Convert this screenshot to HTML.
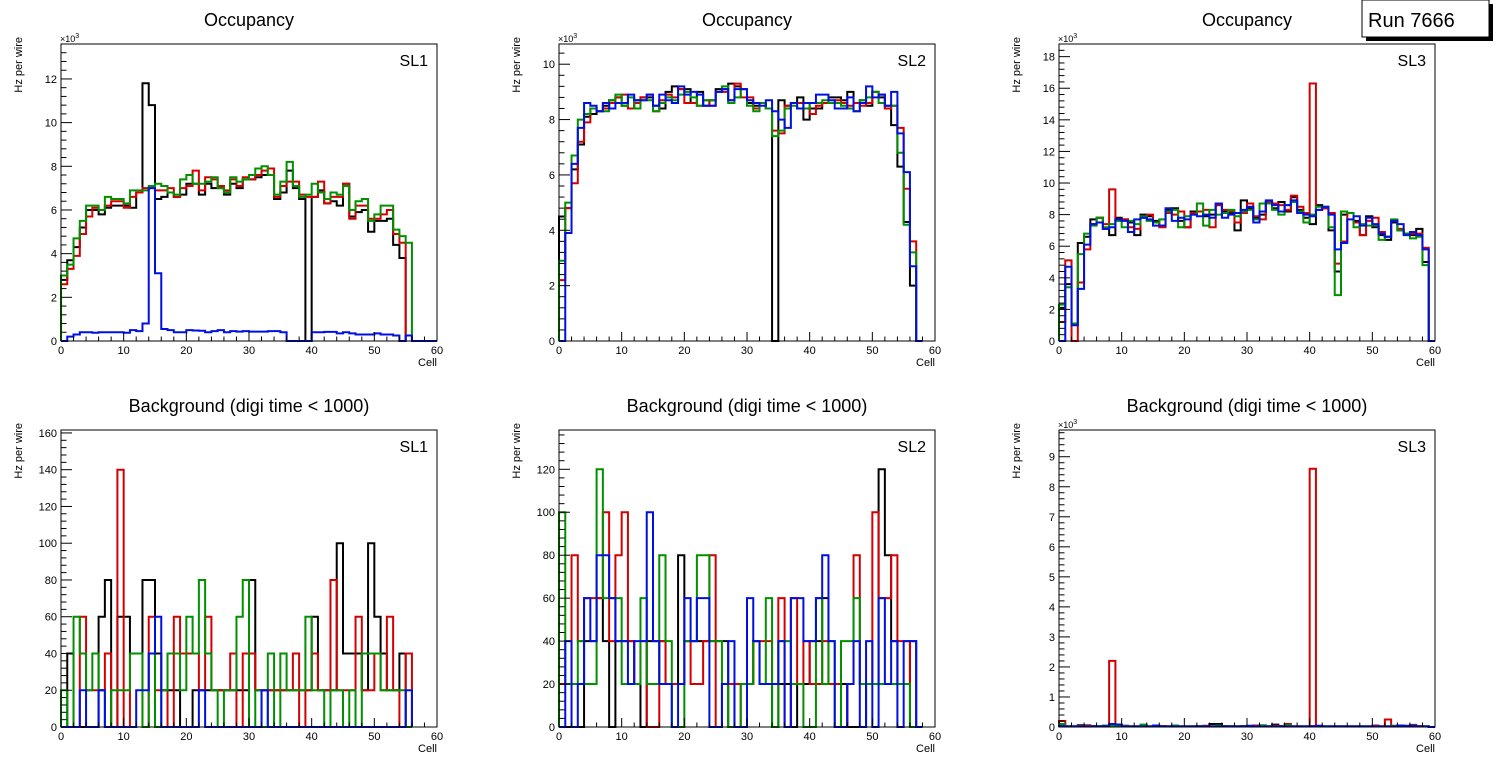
<!DOCTYPE html>
<html><head><meta charset="utf-8"><style>
body{margin:0;background:#fff;}
svg{display:block;font-family:"Liberation Sans",sans-serif;}
</style></head><body>
<svg id="c" width="1496" height="772" xmlns="http://www.w3.org/2000/svg">
<g>
<rect x="1366" y="4" width="127" height="37" fill="#000"/>
<rect x="1362" y="0" width="127" height="37" fill="#fff" stroke="#000" stroke-width="1"/>
<text x="1368" y="27" font-size="20">Run 7666</text>
</g>
</svg>
<script>
const cells = Array.from({length:60},(_,i)=>i);
const seriesColors = ['#000','#d40000','#009000','#0010e0'];
// Occupancy SL1 (x10^3)
const occ1Black=[2.8,3.7,4.3,5.2,6.0,6.0,5.8,6.1,6.2,6.2,6.2,6.1,6.8,11.8,10.8,6.5,6.6,6.8,6.6,6.7,7.2,7.2,6.7,7.2,7.0,7.0,6.7,7.2,7.0,7.4,7.4,7.5,7.6,7.6,6.5,6.8,7.8,7.0,6.5,0,6.6,6.9,6.3,6.4,6.2,7.2,5.7,5.9,6.0,5.0,5.5,5.5,5.6,4.4,3.8];
const occ1Red=[2.6,3.3,3.9,4.9,5.7,6.1,6.0,6.2,6.4,6.4,6.1,6.6,6.8,7.0,7.0,6.9,6.9,7.0,6.6,7.0,7.1,7.8,6.9,7.5,7.4,7.1,6.9,7.4,7.1,7.5,7.4,7.6,7.8,7.9,6.6,7.1,7.3,7.3,6.7,6.6,6.6,7.3,6.3,6.6,6.6,7.2,5.6,6.2,6.2,5.6,5.6,5.8,6.0,4.9,4.5];
const occ1Green=[3.0,3.5,4.7,5.5,6.2,6.2,6.0,6.6,6.5,6.5,6.3,6.9,6.9,6.9,7.1,7.2,7.1,6.8,6.7,7.4,7.6,7.2,7.2,7.3,7.5,7.0,6.8,7.5,7.3,7.4,7.6,7.9,8.0,7.6,6.7,7.3,8.2,7.1,6.6,6.7,7.2,6.8,6.5,6.8,6.7,7.1,6.0,6.4,6.5,5.5,5.8,6.2,6.2,5.1,4.8,4.5];
const occ1Blue=[0,0.2,0.3,0.4,0.4,0.38,0.4,0.4,0.4,0.4,0.38,0.5,0.45,0.8,7.0,3.1,0.55,0.5,0.4,0.4,0.5,0.48,0.47,0.4,0.45,0.5,0.4,0.45,0.43,0.45,0.43,0.43,0.43,0.45,0.45,0.4,0,0,0,0,0.4,0.4,0.42,0.42,0.35,0.4,0.35,0.3,0.3,0.3,0.35,0.3,0.3,0.25,0,0.25,0,0,0,0];
// Occupancy SL2
const occ2Black=[4.5,4.8,6.2,7.1,8.1,8.2,8.3,8.5,8.7,8.8,8.5,8.4,8.7,8.8,8.8,8.5,8.4,9.0,9.2,9.1,9.1,8.6,9.0,8.5,8.7,9.1,9.1,9.3,9.2,9.1,8.6,8.5,8.6,8.4,0,8.7,8.5,8.6,8.8,8.0,8.4,8.4,8.6,8.8,8.8,8.7,9.0,8.6,8.7,8.5,9.0,8.8,8.4,7.8,6.3,4.3,2.0,0];
const occ2Red=[2.2,4.8,5.7,7.2,7.9,8.4,8.3,8.4,8.6,8.8,8.9,8.4,8.6,8.8,8.9,8.3,8.7,8.9,8.8,9.1,8.6,8.6,8.5,8.7,8.5,9.0,9.0,8.7,9.3,8.8,8.8,8.4,8.6,8.4,7.6,7.5,8.5,8.6,8.6,8.6,8.2,8.5,8.6,8.6,8.7,8.6,8.5,8.6,8.5,8.6,9.0,8.9,8.4,8.5,7.7,5.5,3.6,0];
const occ2Green=[2.9,5.0,6.7,8.0,8.2,8.4,8.3,8.3,8.7,8.9,8.5,8.8,8.4,8.7,8.7,8.3,8.6,8.8,8.7,8.9,9.0,8.8,8.5,8.7,8.7,9.0,9.2,8.6,8.8,9.1,8.5,8.3,8.6,8.4,7.4,7.6,8.4,8.5,8.4,8.4,8.6,8.6,8.7,8.6,8.6,8.5,8.4,8.3,8.7,8.8,9.0,8.6,8.5,8.5,6.8,4.2,3.2,0];
const occ2Blue=[0,3.9,6.4,7.7,8.6,8.5,8.3,8.6,8.4,8.6,8.6,8.9,8.7,8.7,8.9,8.5,8.9,8.7,8.6,9.2,8.9,9.0,8.9,8.5,8.5,9.0,9.1,8.7,9.1,9.1,8.7,8.6,8.5,8.7,8.3,8.0,7.7,8.6,8.4,8.6,8.6,8.9,8.9,8.7,8.4,8.4,8.8,8.3,8.6,9.2,8.8,8.9,8.5,9.0,7.5,6.1,2.7,0];
// Occupancy SL3
const occ3Black=[2.1,3.6,1.1,6.2,6.6,7.7,7.8,7.1,6.7,7.8,7.7,7.5,6.7,8.0,7.9,7.6,7.3,8.3,8.4,7.6,7.2,8.2,8.2,7.9,8.0,8.6,8.2,8.1,7.0,8.9,8.4,7.8,8.0,8.8,8.4,8.8,8.2,9.1,8.3,7.8,7.4,8.6,8.4,7.0,4.4,8.0,8.1,7.6,6.7,7.9,7.2,6.7,6.4,7.5,7.0,6.8,6.7,7.1,5.0,0];
const occ3Red=[1.2,5.1,0,3.7,5.8,7.4,7.8,7.4,9.6,7.7,7.7,7.2,7.1,7.8,8.0,7.5,7.2,8.1,8.0,8.2,7.2,8.1,8.2,8.3,7.2,8.6,8.3,8.2,7.5,8.1,8.7,7.9,7.7,8.8,8.7,8.6,8.3,9.2,8.5,8.1,16.3,8.3,8.4,8.1,4.9,6.3,8.1,7.5,6.7,7.6,7.8,6.9,6.6,7.6,7.1,6.8,6.8,6.8,5.9,0];
const occ3Green=[2.3,3.4,1.1,5.5,6.8,7.3,7.8,7.2,7.4,7.6,7.2,7.6,7.4,7.9,7.6,7.5,7.7,8.2,8.3,7.2,7.9,8.0,8.7,7.3,8.3,8.0,8.1,8.3,7.9,8.2,8.3,7.7,8.7,8.7,8.3,8.0,8.6,8.8,8.2,7.5,8.0,8.5,8.5,7.2,2.9,8.2,8.1,7.2,7.4,7.3,7.3,6.4,6.6,7.7,7.0,6.8,6.5,6.6,4.8,0];
const occ3Blue=[0,4.7,1.0,3.3,6.1,7.4,7.5,7.1,7.2,7.7,7.6,6.9,7.7,7.8,7.7,7.3,7.3,8.4,7.6,7.8,7.7,8.0,7.9,8.0,7.8,8.7,7.8,8.0,8.1,8.3,8.5,7.5,8.2,8.9,8.6,8.2,8.6,8.9,8.1,8.0,7.9,8.3,8.5,8.0,5.8,6.2,7.7,7.9,7.3,7.8,7.4,6.8,6.6,7.6,7.4,6.7,6.9,6.7,5.8,0];
// Background SL1 (Hz)
const bg1Black=[0,40,0,0,0,0,60,80,0,60,60,40,40,80,80,40,20,20,20,0,0,20,20,20,20,20,20,20,20,20,80,20,20,20,20,20,20,20,20,20,60,20,20,20,100,40,40,40,20,100,60,40,20,20,40,0];
const bg1Red=[0,0,0,60,20,20,20,40,0,140,0,40,40,0,60,20,20,0,60,40,40,40,20,60,20,20,20,40,0,40,40,20,20,20,20,20,20,40,0,20,40,20,20,80,20,20,20,60,20,20,40,20,60,20,0,40];
const bg1Green=[20,0,60,40,20,40,20,0,20,20,20,40,40,0,40,0,20,40,40,20,60,40,80,40,20,0,20,20,60,80,0,20,0,40,0,40,20,20,20,60,20,20,0,20,20,0,20,0,40,40,40,20,20,20,20,0];
const bg1Blue=[0,0,0,20,0,0,20,0,0,0,0,0,20,20,40,60,0,0,0,0,0,0,20,0,0,0,0,0,0,0,0,0,20,0,0,0,0,0,0,0,0,0,0,0,0,0,0,0,0,0,0,0,0,0,0,20];
// Background SL2 (Hz)
const bg2Black=[0,0,0,0,40,40,60,40,0,40,40,40,20,0,40,40,40,20,20,80,40,40,40,40,40,40,40,0,20,20,20,40,20,20,0,20,20,0,20,20,40,40,60,20,20,20,0,0,0,20,20,120,80,40,20,20,40,0];
const bg2Red=[20,20,80,40,60,60,60,100,40,80,100,40,20,40,0,0,40,20,20,20,40,20,20,40,80,0,20,20,20,0,20,40,40,40,20,60,0,60,20,40,20,20,40,20,20,0,20,80,20,20,100,60,60,80,40,40,0];
const bg2Green=[100,20,20,40,20,20,120,60,60,60,20,20,20,60,20,20,80,40,0,0,40,40,80,80,40,40,20,0,0,20,20,40,20,60,0,40,40,20,20,0,0,60,20,40,0,40,40,60,20,20,20,20,20,20,20,20,0];
const bg2Blue=[0,40,0,20,60,40,80,80,60,40,40,20,40,40,100,40,20,20,0,20,60,40,60,60,0,0,20,40,0,0,60,40,20,20,20,40,0,60,60,40,40,60,80,40,0,0,20,40,0,40,0,60,20,40,0,40,40,0];
// Background SL3 (x10^3 Hz)
const bg3Black=[0.05,0.02,0.02,0.06,0.04,0.03,0.02,0.04,0.05,0.08,0.04,0.02,0.02,0.03,0.02,0.04,0.03,0.02,0.02,0.02,0.02,0.02,0.03,0.02,0.1,0.1,0.03,0.02,0.02,0.03,0.03,0.04,0.02,0.02,0.08,0.03,0.03,0.02,0.02,0.02,0.03,0.02,0.02,0.02,0.02,0.02,0.02,0.02,0.02,0.02,0.03,0.02,0.02,0.02,0.03,0.02,0.03,0.02,0.02,0];
const bg3Red=[0.2,0.02,0.02,0.03,0.06,0.02,0.02,0.03,2.2,0.05,0.03,0.02,0.02,0.03,0.02,0.02,0.03,0.02,0.02,0.02,0.02,0.02,0.02,0.04,0.02,0.02,0.02,0.02,0.02,0.02,0.03,0.05,0.03,0.02,0.04,0.02,0.1,0.02,0.02,0.02,8.6,0.03,0.02,0.02,0.02,0.02,0.02,0.02,0.02,0.02,0.05,0.02,0.25,0.02,0.02,0.02,0.07,0.03,0.02,0];
const bg3Green=[0.1,0.02,0.02,0.02,0.03,0.02,0.03,0.04,0.04,0.05,0.03,0.02,0.02,0.08,0.02,0.02,0.02,0.02,0.05,0.02,0.02,0.02,0.03,0.02,0.02,0.05,0.02,0.03,0.02,0.02,0.02,0.02,0.06,0.02,0.02,0.02,0.06,0.02,0.02,0.02,0.02,0.02,0.02,0.02,0.02,0.02,0.02,0.02,0.02,0.02,0.02,0.02,0.02,0.04,0.04,0.02,0.05,0.02,0.02,0];
const bg3Blue=[0.03,0.02,0.02,0.02,0.02,0.02,0.02,0.03,0.1,0.08,0.02,0.02,0.02,0.02,0.02,0.05,0.02,0.02,0.02,0.02,0.02,0.02,0.02,0.02,0.02,0.02,0.02,0.02,0.02,0.02,0.04,0.02,0.02,0.02,0.02,0.02,0.02,0.02,0.02,0.02,0.02,0.04,0.02,0.02,0.02,0.02,0.02,0.02,0.02,0.02,0.02,0.02,0.02,0.02,0.05,0.04,0.04,0.02,0.02,0];
const xTicks=[0,10,20,30,40,50,60];

const panels=[
 {id:'occ-sl1',x:61,y:44,title:'Occupancy',sl:'SL1',ymax:13.6,major:2,minorN:5,exp:true,series:[occ1Black,occ1Red,occ1Green,occ1Blue]},
 {id:'occ-sl2',x:559,y:44,title:'Occupancy',sl:'SL2',ymax:10.73,major:2,minorN:5,exp:true,series:[occ2Black,occ2Red,occ2Green,occ2Blue]},
 {id:'occ-sl3',x:1059,y:44,title:'Occupancy',sl:'SL3',ymax:18.8,major:2,minorN:5,exp:true,series:[occ3Black,occ3Red,occ3Green,occ3Blue]},
 {id:'bg-sl1',x:61,y:430,title:'Background (digi time < 1000)',sl:'SL1',ymax:161.6,major:20,minorN:5,exp:false,series:[bg1Black,bg1Red,bg1Green,bg1Blue]},
 {id:'bg-sl2',x:559,y:430,title:'Background (digi time < 1000)',sl:'SL2',ymax:138.3,major:20,minorN:5,exp:false,series:[bg2Black,bg2Red,bg2Green,bg2Blue]},
 {id:'bg-sl3',x:1059,y:430,title:'Background (digi time < 1000)',sl:'SL3',ymax:9.89,major:1,minorN:5,exp:true,series:[bg3Black,bg3Red,bg3Green,bg3Blue]}
];
const W=376,H=297,NS='http://www.w3.org/2000/svg';
const svg=document.getElementById('c');
function mk(tag,attrs,parent){const e=document.createElementNS(NS,tag);for(const k in attrs)e.setAttribute(k,attrs[k]);parent.appendChild(e);return e;}
const seriesNames=['black','red','green','blue'];
panels.forEach(p=>{
 const g=mk('g',{},svg);
 
 
 const xs=v=>p.x+v/60*W, ys=v=>p.y+H-Math.min(v,p.ymax)/p.ymax*H;
 const t=mk('text',{x:p.x+W/2,y:p.y-18,'font-size':18,'text-anchor':'middle'},g);t.textContent=p.title;
 
 
 // series
 p.series.forEach((vals,si)=>{
  let d='M'+xs(0)+','+ys(0);
  vals.forEach((v,i)=>{d+=' L'+xs(i)+','+ys(v)+' L'+xs(i+1)+','+ys(v);});
  d+=' L'+xs(vals.length)+','+ys(0);
  const path=mk('path',{d:d,fill:'none',stroke:seriesColors[si],'stroke-width':2},g);
  
  
 });
 mk('rect',{x:p.x,y:p.y,width:W,height:H,fill:'none',stroke:'#000','stroke-width':1},g);
 // x ticks
 for(let v=0;v<=60;v+=2){const maj=v%10===0;mk('line',{x1:xs(v),x2:xs(v),y1:p.y+H,y2:p.y+H-(maj?9:4.5),stroke:'#000'},g);}
 xTicks.forEach(v=>{const tx=mk('text',{x:xs(v),y:p.y+H+13,'font-size':11,'text-anchor':'middle'},g);tx.textContent=v;
  
  });
 const xl=mk('text',{x:p.x+W,y:p.y+H+25,'font-size':11,'text-anchor':'end'},g);xl.textContent='Cell';
 
 
 // y ticks
 const step=p.major/p.minorN;
 for(let k=0;k*step<=p.ymax+1e-9;k++){const v=k*step;const maj=k%p.minorN===0;mk('line',{x1:p.x,x2:p.x+(maj?11:5.5),y1:ys(v),y2:ys(v),stroke:'#000'},g);
  if(maj){const ty=mk('text',{x:p.x-4,y:ys(v)+4,'font-size':11,'text-anchor':'end'},g);ty.textContent=Math.round(v);
   
   }}
 const yt=mk('text',{transform:'translate('+(p.x-39)+','+(p.y-7)+') rotate(-90)','font-size':11,'text-anchor':'end'},g);yt.textContent='Hz per wire';
 
 
 if(p.exp){const ex=mk('text',{x:p.x-1,y:p.y-2,'font-size':9},g);ex.innerHTML='×10<tspan dy="-4" font-size="7">3</tspan>';
  
  }
 const sl=mk('text',{x:p.x+W-9,y:p.y+22,'font-size':16,'text-anchor':'end'},g);sl.textContent=p.sl;
 
 
});
</script>
</body></html>
